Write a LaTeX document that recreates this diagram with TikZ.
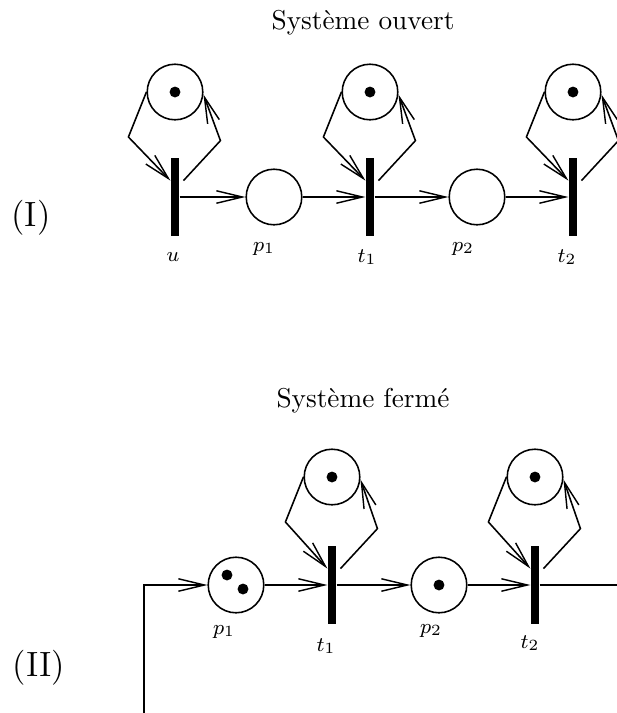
\documentclass[tikz,border=0pt]{standalone}
\usepackage{tikz}
\usetikzlibrary{arrows.meta, calc, positioning}

\tikzset{
  place/.style={circle, draw, line width=0.6pt, minimum size=21.4pt, inner sep=0pt},
  trans/.style={rectangle, fill=black, minimum width=3.1pt, minimum height=30pt, inner sep=0pt},
  token/.style={circle, fill=black, minimum size=4.2pt, inner sep=0pt},
  arc/.style={-{Straight Barb[length=10pt,width=4.8pt,line width=0.55pt]}, line width=0.6pt},
  plain/.style={line width=0.6pt},
  lab/.style={anchor=base, inner sep=0pt, font=\footnotesize},
  titre/.style={anchor=base, font=\fontsize{10.5}{12}\selectfont},
  sys/.style={font=\fontsize{13.5}{16}\selectfont}
}

\begin{document}
\begin{tikzpicture}[x=0.385pt, y=-0.385pt]
  \clip (0,0) rectangle (617,713);

  % (I) systeme ouvert
  \node[titre] (titre1) at (363,29) {Syst\`eme ouvert};
  \node[sys] (sys1) at (31,218) {(I)};

  \node[trans] (u)  at (175,197) {};
  \node[trans] (t1) at (370,197) {};
  \node[trans] (t2) at (573,197) {};
  \node[place] (p1) at (274,197) {};
  \node[place] (p2) at (477,197) {};
  \node[place] (ru)  at (175,92) {};
  \node[place] (rt1) at (370,92) {};
  \node[place] (rt2) at (573,92) {};

  \node[lab] (lu)  at (173,261) {$u$};
  \node[lab] (lp1) at (264,251) {$p_1$};
  \node[lab] (lt1) at (367,262) {$t_1$};
  \node[lab] (lp2) at (463,251) {$p_2$};
  \node[lab] (lt2) at (567,262) {$t_2$};

  \draw[arc] (u) -- (p1);
  \draw[arc] (p1) -- (t1);
  \draw[arc, line width=0.75pt] (t1) -- (p2);
  \draw[arc] (p2) -- (t2);

  % (II) systeme ferme
  \node[titre] (titre2) at (363,407) {Syst\`eme ferm\'e};
  \node[sys] (sys2) at (39,668) {(II)};

  \node[trans] (bt1) at (332,585) {};
  \node[trans] (bt2) at (535,585) {};
  \node[place] (bp1) at (236,585) {};
  \node[place] (bp2) at (439,585) {};
  \node[place] (rbt1) at (332,477) {};
  \node[place] (rbt2) at (535,477) {};

  \node[lab] (lbp1) at (224,634) {$p_1$};
  \node[lab] (lbt1) at (326,651) {$t_1$};
  \node[lab] (lbp2) at (431,633) {$p_2$};
  \node[lab] (lbt2) at (530,648) {$t_2$};

  \coordinate (retour) at (144,730);
  \coordinate (sortie) at (630,585);

  \draw[arc] (retour) |- (bp1);
  \draw[arc] (bp1) -- (bt1);
  \draw[arc, line width=0.75pt] (bt1) -- (bp2);
  \draw[arc] (bp2) -- (bt2);
  \draw[plain] (bt2) -- (sortie);

  % jetons
  \foreach \p in {ru,rt1,rt2,rbt1,rbt2,bp2}
    \node[token] (m\p) at (\p) {};
  \node[token] (mbp1a) at ([shift={(-9,-10)}]bp1.center) {};
  \node[token] (mbp1b) at ([shift={(7,4)}]bp1.center) {};

  % boucles
  \foreach \t in {u,t1,t2,bt1,bt2} {
    \draw[arc] (r\t.west) -- ++(-18,45) -- ([yshift=-8.9pt]\t.north west);
    \draw[arc] ([xshift=1.5pt,yshift=-8.9pt]\t.north east) -- ++(37,-40) -- (r\t.-5);
  }
\end{tikzpicture}
\end{document}
